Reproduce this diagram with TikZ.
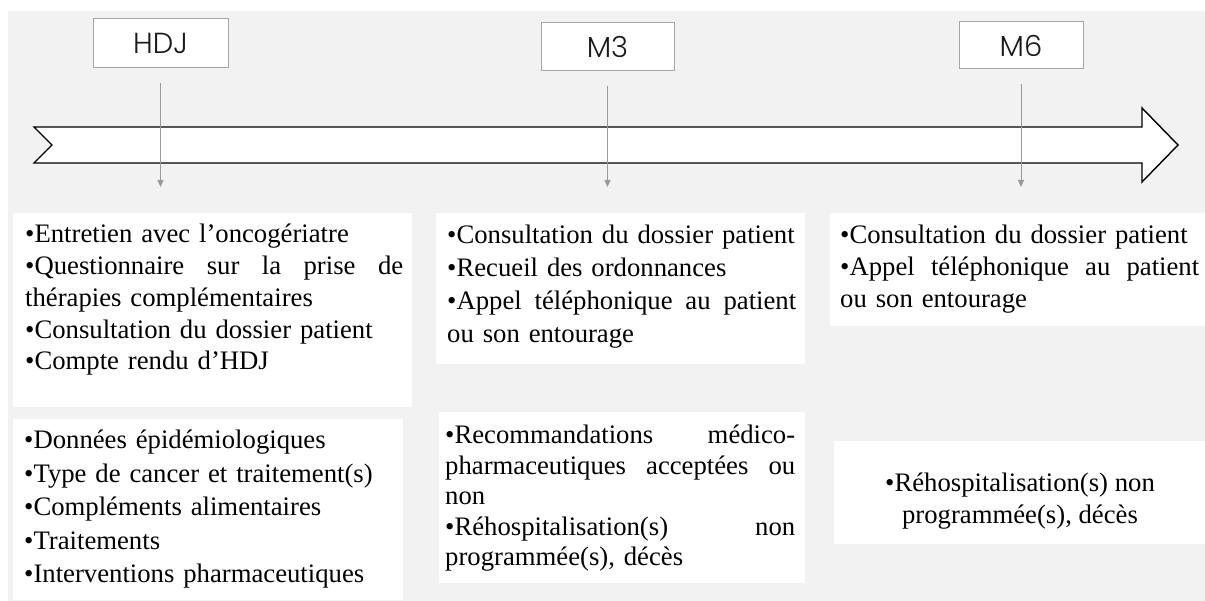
\documentclass[tikz,border=0pt]{standalone}
\usepackage{fontspec}
\setmainfont{Liberation Serif}
\newfontfamily\headfont{Poppins Light}
\usetikzlibrary{arrows.meta}
\definecolor{tlbg}{HTML}{F2F2F2}
\definecolor{tlframe}{HTML}{A6A6A6}
\definecolor{tlstem}{HTML}{9A9A9A}
\definecolor{tlink}{HTML}{1A1A1A}
% a line stretched to the given width (justified text)
\newcommand{\fullline}[2]{\leavevmode\hbox to #1pt{\spaceskip=0.25em plus 1fil\relax #2}}
\tikzset{
    headbox/.style={draw=tlframe, fill=white, line width=1pt, inner sep=0pt,
        font=\headfont\fontsize{29}{34}\selectfont, text=tlink},
    panel/.style={fill=white, inner sep=0pt, anchor=north west},
    paneltext/.style={anchor=north west, inner sep=0pt, align=left, text=black,
        font=\fontsize{26.7}{#1}\selectfont},
    stemarrow/.style={draw=tlstem, line width=1pt, -{Triangle[length=7pt,width=6pt]},
        shorten <=15pt, shorten >=26pt}
}
\begin{document}
\begin{tikzpicture}[x=1pt, y=-1pt]
\useasboundingbox (0,0) rectangle (1205,601);
\fill[tlbg] (8,11) rectangle (1205,601);

% timeline arrow
\draw[line width=1.4pt, fill=white, line join=miter]
    (34,127) -- (1142,127) -- (1142,108) -- (1178,145) -- (1142,182)
    -- (1142,163) -- (34,163) -- (52,145) -- cycle;

% milestones
\node[headbox, minimum width=135, minimum height=49] (hdj) at (160.5,43.5) {HDJ};
\node[headbox, minimum width=133, minimum height=48] (m3) at (607.5,47) {M3};
\node[headbox, minimum width=124, minimum height=47] (m6) at (1021,45.5) {M6};

% panels
\node[panel, minimum width=399, minimum height=194] (hdjtop) at (13,213) {};
\node[panel, minimum width=390, minimum height=181] (hdjbot) at (13,419) {};
\node[panel, minimum width=369, minimum height=151] (m3top) at (436,213) {};
\node[panel, minimum width=366, minimum height=171] (m3bot) at (439,412) {};
\node[panel, minimum width=375, minimum height=113] (m6top) at (830,213) {};
\node[panel, minimum width=371, minimum height=103] (m6bot) at (834,441) {};

% stems
\draw[stemarrow] (hdj.south) -- (hdj.south |- hdjtop.north);
\draw[stemarrow] (m3.south) -- (m3.south |- m3top.north);
\draw[stemarrow] (m6.south) -- (m6.south |- m6top.north);

% texts
\node[paneltext=31.8, text width=385] (hdjtoptxt) at (25,224) {%
    •Entretien avec l’oncogériatre\\
    \fullline{378}{•Questionnaire sur la prise de}\\
    thérapies complémentaires\\
    •Consultation du dossier patient\\
    •Compte rendu d’HDJ};
\node[paneltext=33.5, text width=385] (hdjbottxt) at (24,430) {%
    •Données épidémiologiques\\
    •Type de cancer et traitement(s)\\
    •Compléments alimentaires\\
    •Traitements\\
    •Interventions pharmaceutiques};
\node[paneltext=33, text width=360] (m3toptxt) at (447,225) {%
    •Consultation du dossier patient\\
    •Recueil des ordonnances\\
    \fullline{349}{•Appel téléphonique au patient}\\
    ou son entourage};
\node[paneltext=30.5, text width=360] (m3bottxt) at (445,425) {%
    \fullline{350}{•Recommandations médico-}\\
    \fullline{350}{pharmaceutiques acceptées ou}\\
    non\\
    \fullline{350}{•Réhospitalisation(s) non}\\
    programmée(s), décès};
\node[paneltext=32, text width=362] (m6toptxt) at (840,225) {%
    •Consultation du dossier patient\\
    \fullline{359}{•Appel téléphonique au patient}\\
    ou son entourage};
\node[paneltext=32, align=center, anchor=north] (m6bottxt) at (1020,473) {%
    •Réhospitalisation(s) non\\
    programmée(s), décès};
\end{tikzpicture}
\end{document}
